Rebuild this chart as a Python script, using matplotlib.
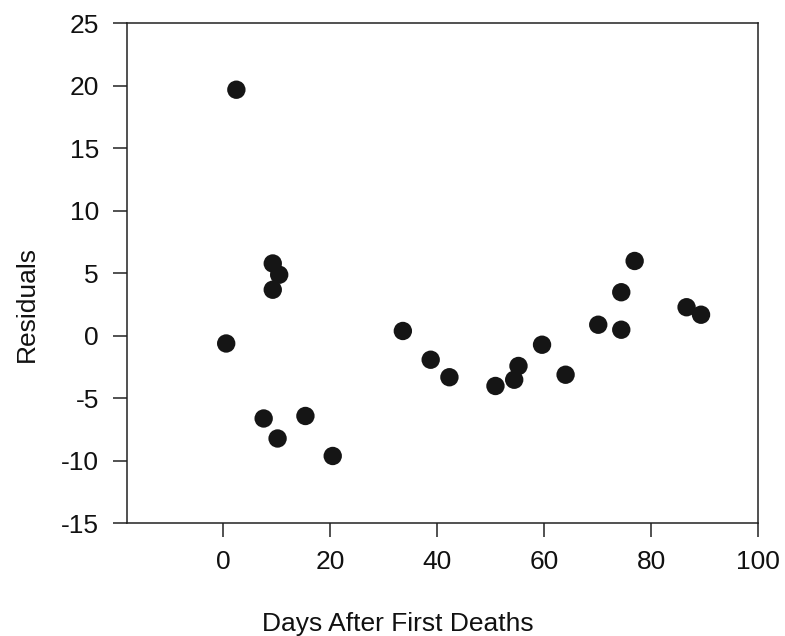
import matplotlib
matplotlib.use("Agg")
import matplotlib.pyplot as plt

# residuals vs days after first deaths
days = [2.5, 9.3, 10.5, 9.3, 0.6, 7.6, 10.2, 15.4, 20.5,
        33.6, 38.8, 42.3, 50.9, 54.4, 55.2, 59.6, 64.0,
        70.1, 74.4, 74.4, 76.9, 86.6, 89.3]
residuals = [19.7, 5.8, 4.9, 3.7, -0.6, -6.6, -8.2, -6.4, -9.6,
             0.4, -1.9, -3.3, -4.0, -3.5, -2.4, -0.7, -3.1,
             0.9, 0.5, 3.5, 6.0, 2.3, 1.7]

xticks = [0, 20, 40, 60, 80, 100]
yticks = [-15, -10, -5, 0, 5, 10, 15, 20, 25]

plt.rcParams['font.family'] = ['Liberation Sans', 'DejaVu Sans']
plt.rcParams['axes.unicode_minus'] = False

fig = plt.figure(figsize=(7.85, 6.36), dpi=100)
ax = fig.add_axes([0.1613, 0.1769, 0.8047, 0.7862])

ax.scatter(days, residuals, s=175, color='#151515', edgecolors='none', zorder=3)

ax.set_xlim(-18, 100)
ax.set_ylim(-15, 25)
ax.set_xticks(xticks)
ax.set_yticks(yticks)

for sp in ax.spines.values():
    sp.set_linewidth(1.1)
    sp.set_color('#222222')

ax.tick_params(axis='both', direction='out', length=10, width=1.1,
               color='#222222', labelsize=19, labelcolor='#111111')
ax.tick_params(axis='x', pad=9)
ax.tick_params(axis='y', pad=10)

ax.set_xlabel("Days After First Deaths", fontsize=19, color='#111111')
ax.set_ylabel("Residuals", fontsize=19, color='#111111')
ax.xaxis.set_label_coords(0.4295, -0.177)
ax.yaxis.set_label_coords(-0.1395, 0.439)

fig.savefig("out.png", dpi=100, facecolor='white')
